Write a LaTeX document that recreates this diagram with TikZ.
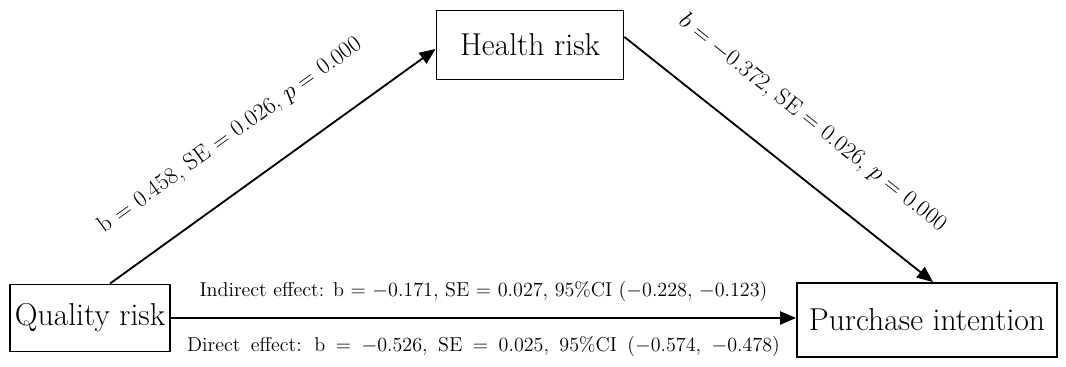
\documentclass[tikz,border=0pt]{standalone}
\usepackage{tikz}
\usetikzlibrary{arrows.meta}

\begin{document}
\begin{tikzpicture}[
    x=0.025cm, y=0.025cm,
    box/.style={rectangle, draw, line width=1.3pt, inner sep=0pt, font=\fontsize{22.5}{27}\selectfont},
    arrow/.style={line width=1.3pt, -{Triangle[length=0.4cm, width=0.33cm]}},
    pathlbl/.style={inner sep=0pt, font=\fontsize{16.8}{20}\selectfont},
    effect/.style={inner sep=0pt, font=\fontsize{14.3}{17}\selectfont}
]
\useasboundingbox (0,0) rectangle (1066,367);

\node[box, minimum width=4cm, minimum height=1.675cm] (quality) at (90,49) {Quality risk};
\node[box, minimum width=4.675cm, minimum height=1.725cm] (health) at (530,322) {Health risk};
\node[box, minimum width=6.5cm, minimum height=1.85cm] (purchase) at (927,47) {Purchase intention};

\draw[arrow] ([xshift=0.5cm]quality.north) -- node[pathlbl, sloped, above=0.95cm, pos=0.46] {b = 0.458, SE = 0.026, $p$ = 0.000} ([yshift=-0.1cm]health.west);
\draw[arrow] ([yshift=0.2cm]health.east) -- node[pathlbl, sloped, above=0.95cm, pos=0.51] {$b$ = $-$0.372, SE = 0.026, $p$ = 0.000} ([xshift=0.15cm]purchase.north);
\draw[arrow] (quality.east) -- node[effect, above=0.4cm] {Indirect effect: b = $-$0.171, SE = 0.027, 95\%CI ($-$0.228, $-$0.123)}
    node[effect, below=0.45cm] {\spaceskip=0.52em Direct effect: b = $-$0.526, SE = 0.025, 95\%CI ($-$0.574, $-$0.478)} (quality.east -| purchase.west);

\end{tikzpicture}
\end{document}
